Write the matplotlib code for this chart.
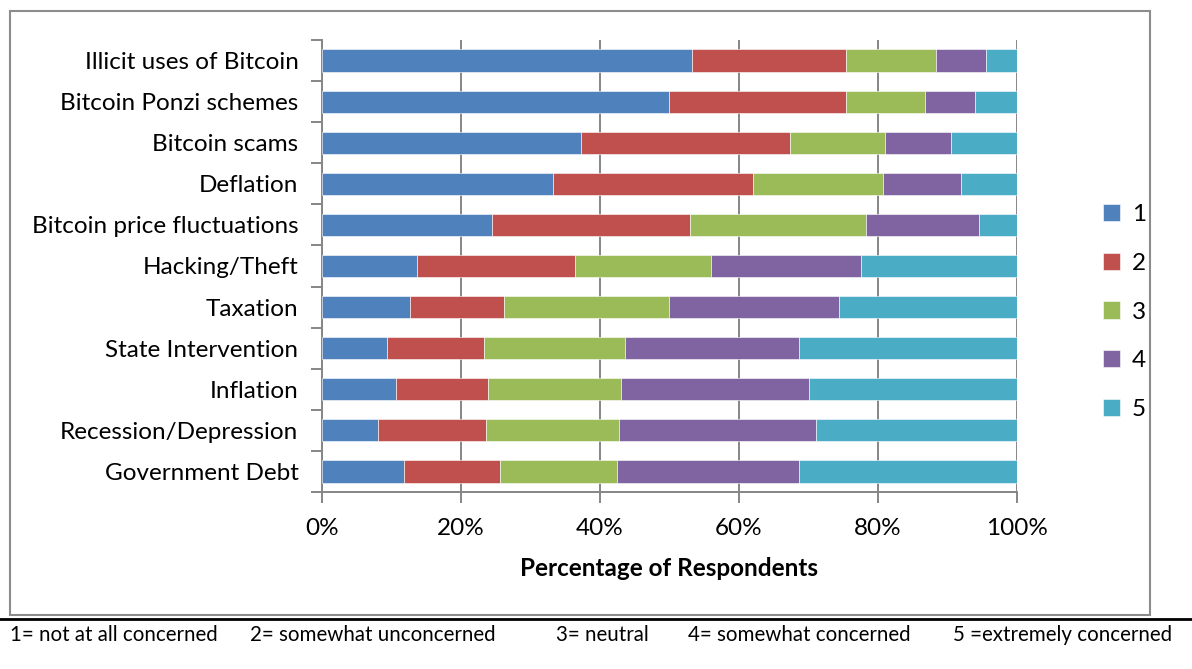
import matplotlib
matplotlib.use("Agg")
import matplotlib.pyplot as plt
from matplotlib.patches import Rectangle
from matplotlib.lines import Line2D

categories = [
    "Illicit uses of Bitcoin",
    "Bitcoin Ponzi schemes",
    "Bitcoin scams",
    "Deflation",
    "Bitcoin price fluctuations",
    "Hacking/Theft",
    "Taxation",
    "State Intervention",
    "Inflation",
    "Recession/Depression",
    "Government Debt",
]

# Share of respondents (%) per concern level, top row first
level_1 = [53.3, 49.9, 37.3, 33.3, 24.4, 13.6, 12.6, 9.3, 10.7, 8.0, 11.8]
level_2 = [22.1, 25.5, 30.0, 28.7, 28.6, 22.8, 13.6, 14.0, 13.2, 15.6, 13.8]
level_3 = [12.9, 11.4, 13.7, 18.7, 25.3, 19.6, 23.7, 20.3, 19.1, 19.2, 16.9]
level_4 = [7.3, 7.2, 9.5, 11.3, 16.3, 21.5, 24.5, 25.1, 27.1, 28.3, 26.2]
level_5 = [4.4, 6.0, 9.5, 8.0, 5.4, 22.5, 25.6, 31.3, 29.9, 28.9, 31.3]

series_labels = ["1", "2", "3", "4", "5"]
series_colors = ["#4F81BD", "#C0504D", "#9BBB59", "#8064A2", "#4BACC6"]
x_tick_labels = ["0%", "20%", "40%", "60%", "80%", "100%"]
footnotes = ["1= not at all concerned", "2= somewhat unconcerned", "3= neutral",
             "4= somewhat concerned", "5 =extremely concerned"]

plt.rcParams["font.family"] = ["Lato", "DejaVu Sans"]
FS = 17.5

W, H = 1192, 669
fig = plt.figure(figsize=(W / 100, H / 100), dpi=100)

def fx(px):
    return px / W

def fy(py):
    return 1 - py / H

# Outer chart frame
fig.patches.append(Rectangle((fx(10), fy(615)), fx(1150) - fx(10), fy(11) - fy(615),
                             transform=fig.transFigure, fill=False,
                             edgecolor="#8c8c8c", linewidth=1.5))
# Rule above the footnote
fig.lines.append(Line2D([0, 1], [fy(619), fy(619)], transform=fig.transFigure,
                        color="black", linewidth=2))

ax = fig.add_axes([fx(322), fy(492), fx(1017) - fx(322), fy(40) - fy(492)])

series = [level_1, level_2, level_3, level_4, level_5]
ypos = list(range(len(categories)))
left = [0.0] * len(categories)
for vals, lab, col in zip(series, series_labels, series_colors):
    ax.barh(ypos, vals, left=left, height=0.54, color=col, label=lab,
            edgecolor="white", linewidth=0.4, zorder=3)
    left = [l + v for l, v in zip(left, vals)]

ax.set_xlim(0, 100)
ax.set_ylim(len(categories) - 0.5, -0.5)

grid_c = "#868686"
ax.set_xticks([0, 20, 40, 60, 80, 100])
ax.set_xticklabels(x_tick_labels, fontsize=FS)
ax.xaxis.grid(True, color=grid_c, linewidth=1.4, zorder=0)
ax.set_axisbelow(True)

ax.set_yticks(ypos)
ax.set_yticklabels(categories, fontsize=FS)
ax.tick_params(axis="y", length=0, pad=17)
# Category boundary tick marks
ax.set_yticks([i - 0.5 for i in range(len(categories) + 1)], minor=True)
ax.tick_params(axis="y", which="minor", length=8, width=1.4, color=grid_c)
ax.tick_params(axis="x", length=8, width=1.4, color=grid_c, pad=11)

for side in ["top", "right"]:
    ax.spines[side].set_visible(False)
for side in ["left", "bottom"]:
    ax.spines[side].set_color(grid_c)
    ax.spines[side].set_linewidth(1.4)

ax.set_xlabel("Percentage of Respondents", fontsize=FS, fontweight="bold", labelpad=13)

handles, labels = ax.get_legend_handles_labels()
leg = fig.legend(handles, labels, loc="center left",
                 bbox_to_anchor=(fx(1081), fy(312)), frameon=False, fontsize=FS,
                 handlelength=0.7, handleheight=0.7, handletextpad=0.5,
                 labelspacing=1.15)

foot_x = [10, 250, 556, 688, 953]
for x, t in zip(foot_x, footnotes):
    fig.text(fx(x), fy(635), t, fontsize=14.8, va="center", ha="left")

fig.savefig("out.png", dpi=100)
